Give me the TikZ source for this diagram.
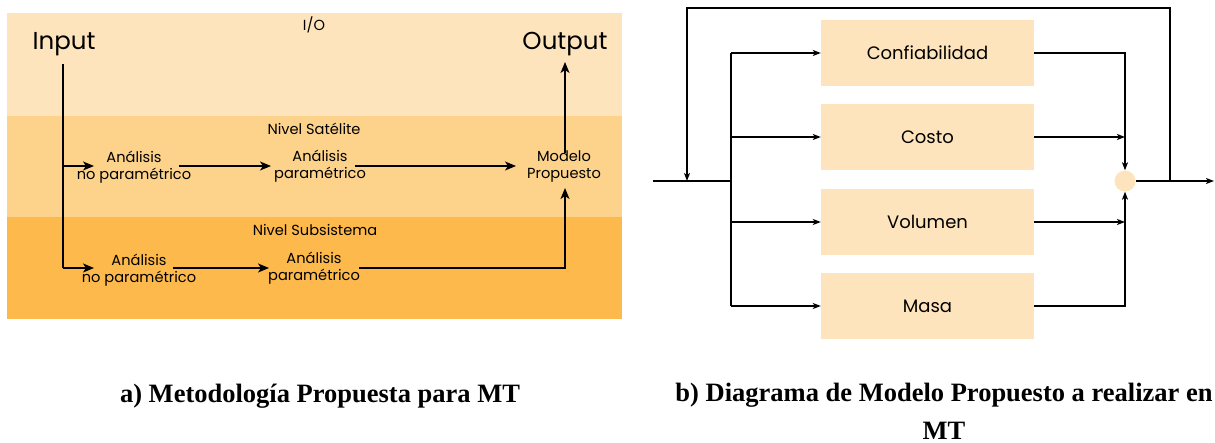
\documentclass[tikz,border=0pt]{standalone}
\usepackage{fontspec}
\setmainfont{Liberation Serif}
\newfontfamily\geo{Poppins}
\usetikzlibrary{arrows.meta}
\definecolor{bandA}{RGB}{253,228,188}
\definecolor{bandB}{RGB}{253,211,140}
\definecolor{bandC}{RGB}{253,185,75}
\tikzset{
  lbl/.style={font=\geo\fontsize{14.6}{17}\selectfont, align=center, inner sep=0pt},
  big/.style={font=\geo\fontsize{24.5}{28}\selectfont, inner sep=0pt},
  lvl/.style={font=\geo\fontsize{14.6}{17}\selectfont, inner sep=0pt},
  arrL/.style={line width=1.8pt, -{Stealth[length=11pt,width=9pt,inset=3pt]}},
  lineL/.style={line width=1.8pt},
  arrR/.style={line width=1.3pt, -{Stealth[length=8pt,width=6pt,inset=2pt]}},
  lineR/.style={line width=1.3pt},
  blk/.style={fill=bandA, minimum width=213pt, minimum height=66pt, inner sep=0pt,
    font=\geo\fontsize{18}{21}\selectfont},
  captxt/.style={font=\bfseries\fontsize{26.5}{38}\selectfont, inner sep=0pt, align=center}
}
\begin{document}
\begin{tikzpicture}[x=1pt,y=-1pt]
\useasboundingbox (0,0) rectangle (1215,443);
% ---------- left panel: bands
\fill[bandA] (7,13) rectangle (622,116);
\fill[bandB] (7,116) rectangle (622,217);
\fill[bandC] (7,217) rectangle (622,319);
% texts
\node[big] (in) at (64,44) {Input};
\node[big] (out) at (565,44) {Output};
\node[lvl] (io) at (314,25) {I/O};
\node[lvl] (ns) at (314,129) {Nivel Satélite};
\node[lvl] (nsub) at (315,230) {Nivel Subsistema};
\node[lbl] (a1) at (134,167) {Análisis\\no paramétrico};
\node[lbl] (a2) at (320,166) {Análisis\\paramétrico};
\node[lbl] (mp) at (564,166) {Modelo\\Propuesto};
\node[lbl] (b1) at (139,270) {Análisis\\no paramétrico};
\node[lbl] (b2) at (314,268) {Análisis\\paramétrico};
% connectors
\coordinate (inS) at (63,64);
\coordinate (jA) at (63,166);
\coordinate (jB) at (63,268);
\coordinate (tA) at (94,166);
\coordinate (tB) at (94,268);
\coordinate (a1e) at (179,166);
\coordinate (a2w) at (271,166);
\coordinate (a2e) at (355,166);
\coordinate (mpw) at (516,166);
\coordinate (mpn) at (565,153);
\coordinate (outS) at (565,62);
\coordinate (b1e) at (173,268);
\coordinate (b2w) at (269,268);
\coordinate (b2e) at (359,268);
\coordinate (bc) at (565,268);
\coordinate (mps) at (565,188);
\draw[lineL] (inS) -- (jB);
\draw[arrL] (jA) -- (tA);
\draw[arrL] (jB) -- (tB);
\draw[arrL] (a1e) -- (a2w);
\draw[arrL] (a2e) -- (mpw);
\draw[arrL] (mpn) -- (outS);
\draw[arrL] (b1e) -- (b2w);
\draw[arrL] (b2e) -- (bc) -- (mps);
% ---------- right panel
\node[blk] (c1) at (927.5,53) {Confiabilidad};
\node[blk] (c2) at (927.5,137) {Costo};
\node[blk] (c3) at (927.5,222) {Volumen};
\node[blk] (c4) at (927.5,306) {Masa};
\node[circle, fill=bandA, minimum size=21pt, inner sep=0pt] (sum) at (1125,181) {};
\coordinate (inL) at (653,181);
\coordinate (fb) at (687,181);
\coordinate (sp) at (731,181);
\coordinate (fbR) at (1170,181);
\coordinate (topR) at (1170,8);
\coordinate (outR) at (1214,181);
\draw[lineR] (inL) -- (sp);
\draw[lineR] (sp |- c1) -- (sp |- c4);
\draw[arrR] (sp |- c1) -- (c1.west);
\draw[arrR] (sp |- c2) -- (c2.west);
\draw[arrR] (sp |- c3) -- (c3.west);
\draw[arrR] (sp |- c4) -- (c4.west);
\draw[arrR] (c1.east) -| (sum.north);
\draw[arrR] (c4.east) -| (sum.south);
\draw[arrR] (c2.east) -- (c2.east -| sum);
\draw[arrR] (c3.east) -- (c3.east -| sum);
\draw[arrR] (sum.east) -- (outR);
\draw[arrR] (fbR) -- (topR) -| (fb);
% ---------- captions
\node[captxt] (capA) at (320,396) {a) Metodología Propuesta para MT};
\node[captxt, anchor=north] (capB) at (944,383) {b) Diagrama de Modelo Propuesto a realizar en\\MT};
\end{tikzpicture}
\end{document}
